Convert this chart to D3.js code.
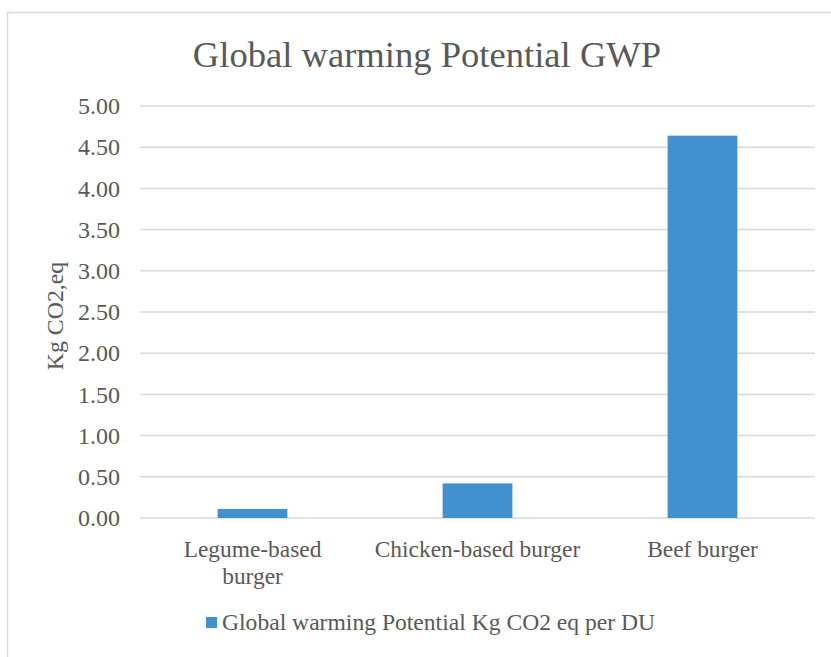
<!DOCTYPE html>
<html><head><meta charset="utf-8">
<script src="https://cdn.jsdelivr.net/npm/d3@7"></script>
<style>body{margin:0;background:#fff}svg{display:block}</style>
</head><body><svg id="c" width="831" height="657" font-family="Liberation Serif, Times New Roman, serif"></svg>
<script>
const categories = [["Legume-based","burger"],["Chicken-based burger"],["Beef burger"]];
const values = [0.11, 0.42, 4.64];
const yTicks = [0,0.5,1,1.5,2,2.5,3,3.5,4,4.5,5];
const title = "Global warming Potential GWP";
const yTitle = "Kg CO2,eq";
const seriesName = "Global warming Potential Kg CO2 eq per DU";

const FONT = "Liberation Serif, Times New Roman, serif";
const TXT = "#595959";
const svg = d3.select("#c");
const color = "#4191d0";
svg.append("rect").attr("x",7.5).attr("y",12.5).attr("width",900).attr("height",900)
  .attr("fill","#fff").attr("stroke","#d9d9d9").attr("stroke-width",1.5);

const x = d3.scaleBand().domain(d3.range(categories.length)).range([140,815]);
const y = d3.scaleLinear().domain([0,5]).range([518,106]);

svg.append("g").selectAll("line").data(yTicks).join("line")
  .attr("x1",140).attr("x2",815).attr("y1",d=>y(d)).attr("y2",d=>y(d))
  .attr("stroke","#d9d9d9").attr("stroke-width",1.5);

const yAxis = svg.append("g").attr("transform","translate(140,0)")
  .call(d3.axisLeft(y).tickValues(yTicks).tickFormat(d3.format(".2f")).tickSize(0).tickPadding(20));
yAxis.select(".domain").remove();
yAxis.attr("font-family",FONT).attr("font-size",24);
yAxis.selectAll("text").attr("fill",TXT);

const bw = x.bandwidth()*0.31;
svg.append("g").selectAll("rect").data(values).join("rect")
  .attr("x",(d,i)=>x(i)+x.bandwidth()/2-bw/2).attr("width",bw)
  .attr("y",d=>y(d)).attr("height",d=>y(0)-y(d)).attr("fill",color);

const cat = svg.append("g").attr("font-family",FONT).attr("font-size",23.4).attr("fill",TXT);
categories.forEach((lines,i)=>{
  const cx = x(i)+x.bandwidth()/2;
  const t = cat.append("text").attr("x",cx).attr("y",557).attr("text-anchor","middle");
  lines.forEach((l,j)=>t.append("tspan").attr("x",cx).attr("dy",j?27:0).text(l));
});

svg.append("text").attr("x",427).attr("y",67).attr("text-anchor","middle")
  .attr("font-family",FONT).attr("font-size",36.6).attr("fill",TXT).text(title);

svg.append("text").attr("transform","translate(63,316) rotate(-90)").attr("text-anchor","middle")
  .attr("font-family",FONT).attr("font-size",23.8).attr("fill",TXT).text(yTitle);

const lg = svg.append("g");
lg.append("rect").attr("x",206).attr("y",617).attr("width",11).attr("height",11).attr("fill",color);
lg.append("text").attr("x",222).attr("y",630).attr("font-family",FONT).attr("font-size",23.6).attr("fill",TXT).text(seriesName);
</script></body></html>
